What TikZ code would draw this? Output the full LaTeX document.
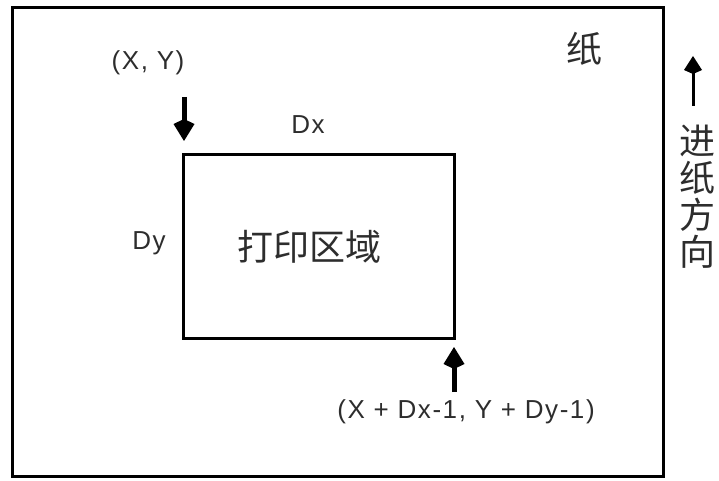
\documentclass[tikz,border=0pt]{standalone}
\usepackage{fontspec}
\setmainfont{Liberation Sans}
\newfontfamily\cjk{Noto Sans CJK SC}
\newfontfamily\lat[LetterSpace=6]{Liberation Sans}
\usetikzlibrary{arrows.meta}
\definecolor{txt}{RGB}{45,45,45}
\begin{document}
\begin{tikzpicture}[x=1pt,y=-1pt,
  frame/.style={draw=black, rectangle, line width=3pt, inner sep=0pt, outer sep=0pt},
  lbl/.style={text=txt, inner sep=0pt, font=\lat\fontsize{26}{30}\selectfont},
  cjklbl/.style={text=txt, inner sep=0pt, align=center, font=\cjk\fontsize{36}{37}\selectfont},
  bigarrow/.style={line width=5pt, -{Kite[length=22pt,width=21pt,inset=5pt]}},
  feedarrow/.style={line width=3pt, -{Kite[length=18pt,width=18pt,inset=4pt]}}]
\useasboundingbox (0,0) rectangle (719,481);
% paper and printing area
\node[frame, minimum width=651pt, minimum height=468pt] (paper) at (337.5,242) {};
\node[frame, minimum width=271pt, minimum height=183pt] (area) at (318.5,246.5) {};
% labels
\node[cjklbl] (areaLabel) at (309,247) {打印区域};
\node[cjklbl] (paperLabel) at (584,49) {纸};
\node[cjklbl] (feedLabel) at (697,197) {进\\纸\\方\\向};
\node[lbl] (xy) at (148,63) {(X, Y)};
\node[lbl] (dx) at (308,125) {Dx};
\node[lbl] (dy) at (149,243) {Dy};
\node[lbl] (xyEnd) at (466,412) {(X + Dx-1, Y + Dy-1)};
% arrows
\coordinate (xyTail) at (184,97);
\coordinate (xyTip) at (184,141);
\coordinate (endTail) at (454,392);
\coordinate (endTip) at (454,347);
\coordinate (feedTail) at (693,106);
\coordinate (feedTip) at (693,56);
\draw[bigarrow] (xyTail) -- (xyTip);
\draw[bigarrow] (endTail) -- (endTip);
\draw[feedarrow] (feedTail) -- (feedTip);
\end{tikzpicture}
\end{document}
